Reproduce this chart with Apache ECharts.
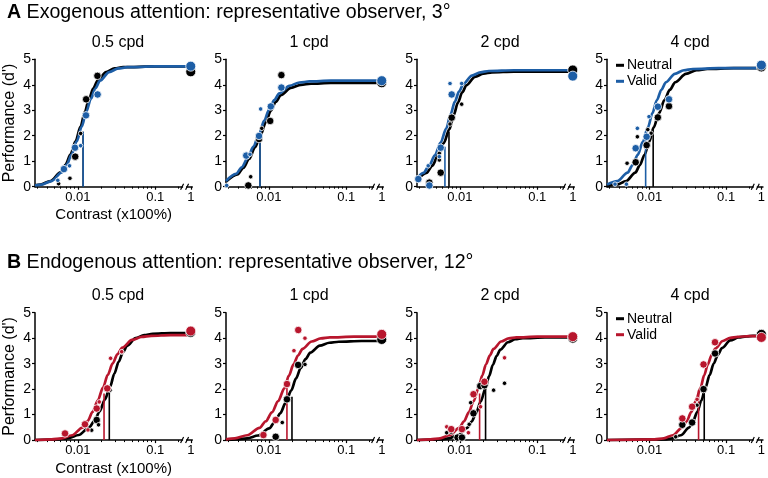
<!DOCTYPE html>
<html><head><meta charset="utf-8">
<script src="https://cdn.jsdelivr.net/npm/echarts@6/dist/echarts.min.js"></script>
<style>html,body{margin:0;padding:0;background:#fff}#c{width:768px;height:478px}</style>
</head><body><div id="c"></div>
<script>
// ---------------- data ----------------
const panelTitles = ['0.5 cpd', '1 cpd', '2 cpd', '4 cpd'];
const rowLetters = ['A', 'B'];
const rowTitles = ['Exogenous attention: representative observer, 3°', 'Endogenous attention: representative observer, 12°'];
const conditionNames = ['Neutral', 'Valid'];
const xAxisTitle = 'Contrast (x100%)';
const yAxisTitle = "Performance (d')";
const xTickValues = [0.01, 0.1, 1];
const xTickLabels = ['0.01', '0.1', '1'];
const xMinorTicks = [0.003, 0.004, 0.005, 0.006, 0.007, 0.008, 0.009, 0.02, 0.03, 0.04, 0.05, 0.06, 0.07, 0.08, 0.09, 0.2];
const xMinContrast = 0.00279;
const breakContrast = 0.24;

// fitted curves: [log10 contrast, d'] (log10 contrast 0 = contrast 1)
const exoNeutralCurves = [
  [[-2.555,0.05],[-2.485,0.085],[-2.355,0.22],[-2.225,0.56],[-2.16,0.86],[-2.095,1.27],[-2.03,1.78],[-1.965,2.36],[-1.91,2.94],[-1.855,3.45],[-1.8,3.86],[-1.745,4.16],[-1.635,4.5],[-1.525,4.64],[-1.415,4.69],[-1.0,4.72],[-0.7,4.72],[0,4.72]],
  [[-2.555,0.19],[-2.405,0.48],[-2.33,0.74],[-2.255,1.09],[-2.18,1.54],[-2.105,2.04],[-2.04,2.53],[-1.975,2.98],[-1.91,3.33],[-1.845,3.59],[-1.715,3.88],[-1.585,4.0],[-1.455,4.04],[-1.2,4.07],[-0.7,4.07],[0,4.07]],
  [[-2.555,0.25],[-2.431,0.54],[-2.357,0.82],[-2.283,1.22],[-2.209,1.71],[-2.135,2.26],[-2.08,2.81],[-2.025,3.3],[-1.97,3.7],[-1.915,3.98],[-1.805,4.31],[-1.695,4.44],[-1.585,4.49],[-1.3,4.52],[-0.7,4.52],[0,4.52]],
  [[-2.555,0.03],[-2.425,0.08],[-2.305,0.22],[-2.185,0.55],[-2.125,0.85],[-2.065,1.25],[-2.005,1.76],[-1.945,2.33],[-1.875,2.89],[-1.805,3.4],[-1.735,3.8],[-1.665,4.1],[-1.525,4.43],[-1.385,4.57],[-1.245,4.62],[-0.9,4.65],[-0.7,4.65],[0,4.65]]
];
const exoValidCurves = [
  [[-2.555,0.045],[-2.47,0.085],[-2.34,0.22],[-2.21,0.56],[-2.145,0.86],[-2.08,1.27],[-2.015,1.78],[-1.95,2.36],[-1.891,2.94],[-1.832,3.45],[-1.773,3.86],[-1.714,4.16],[-1.596,4.5],[-1.478,4.64],[-1.36,4.69],[-1.0,4.72],[-0.7,4.72],[0,4.72]],
  [[-2.555,0.22],[-2.425,0.5],[-2.35,0.76],[-2.275,1.12],[-2.2,1.57],[-2.125,2.08],[-2.06,2.59],[-1.995,3.04],[-1.93,3.4],[-1.865,3.66],[-1.735,3.96],[-1.605,4.09],[-1.475,4.13],[-1.2,4.16],[-0.7,4.16],[0,4.16]],
  [[-2.555,0.32],[-2.471,0.54],[-2.397,0.83],[-2.323,1.23],[-2.249,1.73],[-2.175,2.29],[-2.12,2.84],[-2.065,3.34],[-2.01,3.74],[-1.955,4.03],[-1.845,4.36],[-1.735,4.49],[-1.625,4.54],[-1.3,4.57],[-0.7,4.57],[0,4.57]],
  [[-2.555,0.08],[-2.419,0.22],[-2.286,0.55],[-2.22,0.85],[-2.153,1.25],[-2.087,1.76],[-2.02,2.33],[-1.962,2.89],[-1.903,3.4],[-1.845,3.8],[-1.786,4.1],[-1.669,4.43],[-1.552,4.57],[-1.435,4.62],[-1.1,4.65],[-0.7,4.65],[0,4.65]]
];
const endoNeutralCurves = [
  [[-2.555,0],[-2.258,0.03],[-2.123,0.08],[-1.988,0.2],[-1.853,0.5],[-1.786,0.76],[-1.718,1.13],[-1.651,1.59],[-1.583,2.1],[-1.528,2.61],[-1.473,3.07],[-1.418,3.44],[-1.363,3.7],[-1.253,4.0],[-1.143,4.12],[-1.033,4.17],[-0.8,4.2],[0,4.2]],
  [[-2.555,0.01],[-2.425,0.03],[-2.282,0.07],[-2.139,0.18],[-1.996,0.46],[-1.925,0.71],[-1.853,1.05],[-1.782,1.47],[-1.71,1.95],[-1.649,2.42],[-1.587,2.84],[-1.526,3.18],[-1.464,3.43],[-1.341,3.71],[-1.218,3.82],[-1.095,3.86],[-0.8,3.89],[0,3.89]],
  [[-2.555,0],[-2.26,0.03],[-2.142,0.07],[-2.024,0.19],[-1.906,0.48],[-1.847,0.73],[-1.788,1.08],[-1.729,1.52],[-1.67,2.02],[-1.622,2.51],[-1.573,2.95],[-1.525,3.3],[-1.476,3.55],[-1.379,3.84],[-1.282,3.96],[-1.185,4.0],[-0.9,4.03],[0,4.03]],
  [[-2.555,0],[-1.805,0.03],[-1.698,0.07],[-1.591,0.19],[-1.484,0.49],[-1.431,0.75],[-1.377,1.1],[-1.324,1.55],[-1.27,2.05],[-1.216,2.55],[-1.162,3.0],[-1.108,3.35],[-1.054,3.61],[-0.946,3.91],[-0.838,4.03],[-0.73,4.07],[-0.65,4.09],[0,4.1]]
];
const endoValidCurves = [
  [[-2.555,0],[-2.34,0.03],[-2.207,0.07],[-2.074,0.19],[-1.941,0.49],[-1.875,0.75],[-1.808,1.11],[-1.742,1.56],[-1.675,2.06],[-1.613,2.56],[-1.55,3.01],[-1.488,3.37],[-1.425,3.63],[-1.3,3.93],[-1.175,4.05],[-1.05,4.09],[-0.8,4.12],[0,4.12]],
  [[-2.555,0.03],[-2.44,0.07],[-2.28,0.19],[-2.12,0.48],[-2.04,0.74],[-1.96,1.09],[-1.88,1.53],[-1.8,2.03],[-1.741,2.53],[-1.682,2.97],[-1.623,3.32],[-1.564,3.58],[-1.446,3.87],[-1.328,3.99],[-1.21,4.03],[-0.9,4.06],[0,4.06]],
  [[-2.555,0],[-2.38,0.03],[-2.256,0.07],[-2.132,0.19],[-2.008,0.48],[-1.946,0.74],[-1.884,1.09],[-1.822,1.53],[-1.76,2.03],[-1.711,2.53],[-1.662,2.97],[-1.613,3.32],[-1.564,3.58],[-1.466,3.87],[-1.368,3.99],[-1.27,4.03],[-1.0,4.06],[0,4.06]],
  [[-2.555,0],[-1.935,0.03],[-1.815,0.07],[-1.695,0.19],[-1.575,0.49],[-1.515,0.74],[-1.455,1.1],[-1.395,1.54],[-1.335,2.04],[-1.287,2.54],[-1.238,2.98],[-1.19,3.34],[-1.141,3.59],[-1.044,3.89],[-0.947,4.01],[-0.85,4.05],[-0.7,4.08],[0,4.08]]
];

// thresholds: [contrast, d' at top of line]
const exoNeutralThresholds = [[0.0117,2.16],[0.00767,1.8],[0.00723,2.16],[0.01117,2.22]];
const exoValidThresholds = [[0.0117,2.16],[0.00767,1.83],[0.00641,1.57],[0.00891,1.96]];
const endoNeutralThresholds = [[0.0255,1.96],[0.0199,1.7],[0.0215,2.09],[0.0518,1.83]];
const endoValidThresholds = [[0.0218,1.83],[0.01713,2.09],[0.018,1.83],[0.0437,1.96]];

// data points: [contrast, d', weight class]
const exoNeutralPoints = [
  [[0.00564,0.12,1],[0.0079,0.33,1],[0.00924,1.18,2],[0.01086,2.09,1],[0.0128,3.43,2],[0.0179,4.35,2],[1,4.51,3]],
  [[0.00542,0.05,2],[0.00582,0.39,1],[0.00746,1.87,2],[0.0081,2.29,1],[0.0104,2.58,2],[0.01452,4.38,2],[1,4.08,3]],
  [[0.00403,0.16,2],[0.00542,1.05,1],[0.00542,1.31,1],[0.00565,0.55,2],[0.00746,2.46,1],[0.00784,2.71,2],[0.01055,3.24,1],[1,4.58,3]],
  [[0.0051,0.92,1],[0.0066,0.96,2],[0.00695,1.96,1],[0.00918,1.63,2],[0.0095,2.24,1],[0.0105,2.1,1],[0.01285,2.72,2],[0.01796,3.16,2],[1,4.7,3]]
];
const exoValidPoints = [
  [[0.0055,0.25,1],[0.0066,0.69,2],[0.0078,0.82,1],[0.00917,1.53,2],[0.01086,1.61,1],[0.01274,2.8,2],[0.018,3.62,2],[1,4.73,3]],
  [[0.00285,0.05,1],[0.0051,1.22,2],[0.0057,1.27,1],[0.00746,1.99,2],[0.00783,3.05,1],[0.0106,3.15,2],[0.01452,3.89,2],[1,4.16,3]],
  [[0.0029,0.3,2],[0.0039,0.82,1],[0.00403,0.05,2],[0.00542,1.18,1],[0.00565,1.53,2],[0.00746,4.05,1],[0.00784,3.62,2],[0.01055,4.05,1],[1,4.34,3]],
  [[0.00355,0.1,1],[0.005,0.1,1],[0.0066,1.51,2],[0.00695,2.29,1],[0.00918,1.96,2],[0.00986,2.75,1],[0.01285,3.14,2],[0.01796,3.43,2],[1,4.77,3]]
];
const endoNeutralPoints = [
  [[0.01507,0.39,1],[0.0175,0.79,2],[0.0185,0.6,1],[0.026,1.96,1],[0.037,3.45,1],[1,4.22,3]],
  [[0.01225,0.13,2],[0.0149,0.69,1],[0.01715,1.6,2],[0.0239,2.95,2],[0.0293,2.97,1],[1,3.95,3]],
  [[0.00676,0.29,1],[0.00773,0.31,1],[0.00934,0.1,2],[0.01063,0.1,2],[0.0132,0.62,1],[0.0138,1.47,1],[0.015,1.05,2],[0.01836,2.12,2],[0.0208,2.15,2],[0.0273,1.96,1],[0.0378,2.23,1],[1,4.0,3]],
  [[0.022,0.13,1],[0.0268,0.6,2],[0.036,0.69,2],[0.0417,1.37,1],[0.0507,2.0,2],[0.0716,3.4,2],[1,4.15,3]]
];
const endoValidPoints = [
  [[0.00682,0.26,2],[0.01236,0.62,2],[0.0135,0.4,1],[0.0175,1.24,2],[0.0189,1.5,1],[0.024,2.03,2],[0.0265,3.21,1],[0.0369,3.47,1],[1,4.28,3]],
  [[0.0085,0.2,2],[0.01225,0.79,2],[0.0165,2.2,1],[0.01715,2.2,2],[0.0211,3.51,1],[0.024,4.32,2],[0.0293,4.0,1],[1,4.15,3]],
  [[0.00676,0.52,1],[0.00773,0.43,2],[0.01063,0.43,2],[0.0129,0.29,1],[0.015,1.8,2],[0.0185,1.31,1],[0.0208,2.29,2],[0.0378,3.23,1],[1,4.06,3]],
  [[0.0268,0.85,2],[0.036,1.31,2],[0.0417,1.6,1],[0.0507,2.97,2],[0.0716,3.84,2],[1,4.03,3]]
];

// ---------------- layout / style ----------------
const FONT = "'Liberation Sans', Arial, sans-serif";
const panelLeft = [35, 226, 417, 607];
const rowTop = [59.3, 312.7];
const gridW = 157.3, gridH = 127.4;
const U_MIN = Math.log10(xMinContrast);
const U_MAX = -0.52;
const U_ONE = -0.54;          // display position of contrast 1 (after axis break)
const U_BREAK = Math.log10(breakContrast);
const rowColors = [['#000000', '#1d5ea6'], ['#000000', '#b8162d']];
const sizeByWeight = {1: 4.5, 2: 7.5, 3: 10};

function pos(c) { return c >= 1 ? U_ONE : Math.log10(c); }
function posLog(u) { return u >= 0 ? U_ONE : u; }
const majorPos = xTickValues.map(pos);
const minorPos = xMinorTicks.map(pos);
function tickLabel(v) {
  for (let k = 0; k < majorPos.length; k++) if (Math.abs(majorPos[k] - v) < 1e-6) return xTickLabels[k];
  return '';
}

const grids = [], xAxes = [], xMinorAxes = [], yAxes = [], series = [], titles = [];
const curveSets = [[exoNeutralCurves, exoValidCurves], [endoNeutralCurves, endoValidCurves]];
const threshSets = [[exoNeutralThresholds, exoValidThresholds], [endoNeutralThresholds, endoValidThresholds]];
const pointSets = [[exoNeutralPoints, exoValidPoints], [endoNeutralPoints, endoValidPoints]];

for (let r = 0; r < 2; r++) {
  titles.push({
    text: '{b|' + rowLetters[r] + '} ' + rowTitles[r],
    left: 2, top: r === 0 ? -2 : 248,
    textStyle: { fontFamily: FONT, fontSize: 19.6, fontWeight: 'normal', color: '#000',
      rich: { b: { fontFamily: FONT, fontSize: 19.6, fontWeight: 'bold', color: '#000' } } }
  });
  for (let j = 0; j < 4; j++) {
    const i = r * 4 + j;
    grids.push({ left: panelLeft[j], top: rowTop[r], width: gridW, height: gridH });
    titles.push({
      text: panelTitles[j], left: panelLeft[j] + 78, top: rowTop[r] - 30, textAlign: 'center',
      textStyle: { fontFamily: FONT, fontSize: 16, fontWeight: 'normal', color: '#000' }
    });
    xAxes.push({
      gridIndex: i, type: 'value', min: U_MIN, max: U_MAX, position: 'bottom',
      name: j === 0 ? xAxisTitle : '', nameLocation: 'middle', nameGap: 21,
      nameTextStyle: { fontFamily: FONT, fontSize: 15, color: '#000' },
      axisLine: { lineStyle: { color: '#000', width: 1.5 } },
      axisTick: { customValues: majorPos, length: 3, lineStyle: { color: '#000', width: 1.2 } },
      axisLabel: { customValues: majorPos, formatter: tickLabel, fontFamily: FONT, fontSize: 13, color: '#000', margin: 4 },
      splitLine: { show: false }
    });
    xMinorAxes.push({
      gridIndex: i, type: 'value', min: U_MIN, max: U_MAX, position: 'bottom',
      axisLine: { show: false },
      axisTick: { customValues: minorPos, length: 2, lineStyle: { color: '#000', width: 1 } },
      axisLabel: { show: false }, splitLine: { show: false }
    });
    yAxes.push({
      gridIndex: i, type: 'value', min: 0, max: 5, interval: 1,
      name: j === 0 ? yAxisTitle : '', nameLocation: 'middle', nameGap: 17,
      nameTextStyle: { fontFamily: FONT, fontSize: 16, color: '#000' },
      axisLine: { show: true, lineStyle: { color: '#000', width: 1.5 } },
      axisTick: { show: true, length: 3, lineStyle: { color: '#000', width: 1.2 } },
      axisLabel: { fontFamily: FONT, fontSize: 14, color: '#000', margin: 4 },
      splitLine: { show: false }
    });
    for (let k = 0; k < 2; k++) {
      const col = rowColors[r][k];
      series.push({
        name: conditionNames[k] + rowLetters[r], type: 'line', xAxisIndex: i, yAxisIndex: i, z: 2 + k,
        data: curveSets[r][k][j].map(p => [posLog(p[0]), p[1]]),
        smooth: 0.3, smoothMonotone: 'x', showSymbol: false, symbol: 'none',
        color: col, lineStyle: { color: col, width: 2.7 }, silent: true
      });
    }
    for (let k = 0; k < 2; k++) {
      const col = rowColors[r][k];
      const t = threshSets[r][k][j];
      series.push({
        name: conditionNames[k] + rowLetters[r], type: 'line', xAxisIndex: i, yAxisIndex: i, z: 4 + k,
        data: [[pos(t[0]), 0], [pos(t[0]), t[1]]], showSymbol: false, symbol: 'none',
        color: col, lineStyle: { color: col, width: 1.6 }, silent: true
      });
    }
    for (let k = 0; k < 2; k++) {
      const col = rowColors[r][k];
      series.push({
        name: conditionNames[k] + rowLetters[r], type: 'scatter', xAxisIndex: i, yAxisIndex: i, z: 6 + k,
        data: pointSets[r][k][j].map(p => [pos(p[0]), p[1], p[2]]),
        symbolSize: v => sizeByWeight[v[2]], clip: false,
        color: col, itemStyle: { color: col, opacity: 1, borderColor: '#ffffff', borderWidth: 0.8 }, silent: true
      });
    }
    series.push({
      type: 'custom', xAxisIndex: i, yAxisIndex: i, z: 9, silent: true, clip: false,
      data: [[U_BREAK, 0]],
      renderItem: (params, api) => {
        const p = api.coord([api.value(0), api.value(1)]);
        return { type: 'group', children: [
          { type: 'rect', shape: { x: p[0] - 1.5, y: p[1] - 2, width: 3, height: 4 }, style: { fill: '#fff' } },
          { type: 'line', shape: { x1: p[0] - 4, y1: p[1] + 3, x2: p[0] - 1, y2: p[1] - 3 }, style: { stroke: '#000', lineWidth: 1.2 } },
          { type: 'line', shape: { x1: p[0] + 1, y1: p[1] + 3, x2: p[0] + 4, y2: p[1] - 3 }, style: { stroke: '#000', lineWidth: 1.2 } }
        ] };
      }
    });
  }
}

const legends = [0, 1].map(r => ({
  data: conditionNames.map((n, k) => ({ name: n + rowLetters[r], itemStyle: { color: rowColors[r][k] } })),
  formatter: name => name.slice(0, -1),
  orient: 'vertical', left: 611, top: rowTop[r] - 6, itemGap: 2,
  icon: 'rect', itemWidth: 8, itemHeight: 3, selectedMode: false,
  textStyle: { fontFamily: FONT, fontSize: 14, color: '#000', padding: [0, 0, 0, -2] }
}));

const chart = echarts.init(document.getElementById('c'), null, { renderer: 'canvas' });
chart.setOption({
  animation: false,
  backgroundColor: '#ffffff',
  textStyle: { fontFamily: FONT },
  title: titles,
  legend: legends,
  grid: grids,
  xAxis: xAxes.concat(xMinorAxes),
  yAxis: yAxes,
  series: series
});
</script></body></html>
